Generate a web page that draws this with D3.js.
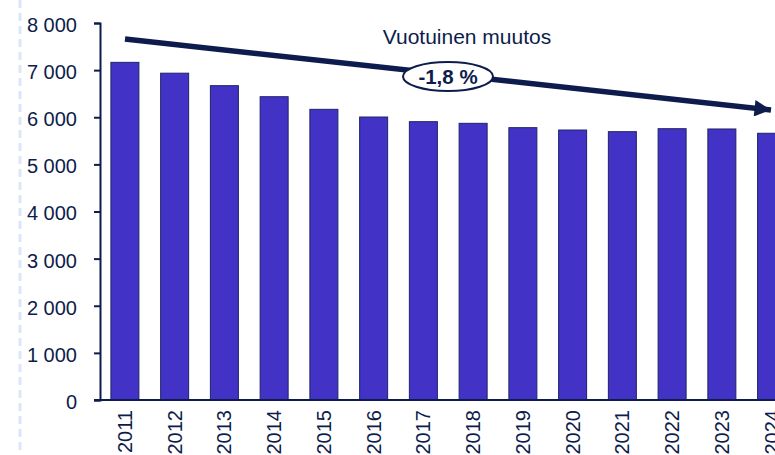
<!DOCTYPE html>
<html>
<head>
<meta charset="utf-8">
<script src="https://cdn.jsdelivr.net/npm/d3@7"></script>
<style>
  html, body { margin: 0; padding: 0; background: #fff; }
  svg { display: block; }
</style>
</head>
<body>
<svg id="chart" width="775" height="455" font-family="'Liberation Sans', Arial, sans-serif"></svg>
<script>
// data
var years = ["2011", "2012", "2013", "2014", "2015", "2016", "2017",
             "2018", "2019", "2020", "2021", "2022", "2023", "2024"];
var values = [7165, 6935, 6670, 6436, 6168, 6005, 5906,
              5871, 5779, 5729, 5694, 5757, 5751, 5660];
var yTicks = [0, 1000, 2000, 3000, 4000, 5000, 6000, 7000, 8000];
var changeTitle = "Vuotuinen muutos";
var changeLabel = "-1,8 %";

var navy = "#0d1c4c";
var barColor = "#4233c6";
var font = "'Liberation Sans', Arial, sans-serif";

var svg = d3.select("#chart");

var x = d3.scaleBand()
    .domain(years)
    .range([100, 796.5])
    .paddingInner(0.437)
    .paddingOuter(0.219);

var y = d3.scaleLinear()
    .domain([0, 8000])
    .range([400, 23]);

var fmt = function (d) { return d3.format(",")(d).replace(/,/g, " "); };

// dashed guide on the far left
svg.append("line")
    .attr("x1", 20).attr("x2", 20)
    .attr("y1", 0).attr("y2", 455)
    .style("stroke", "#dce6fa")
    .style("stroke-width", 3)
    .style("stroke-dasharray", "8,5");

// bars
svg.selectAll("rect.bar")
    .data(values)
    .enter()
    .append("rect")
    .attr("class", "bar")
    .attr("x", function (d, i) { return x(years[i]); })
    .attr("y", function (d) { return y(d); })
    .attr("width", x.bandwidth())
    .attr("height", function (d) { return y(0) - y(d); })
    .style("fill", barColor)
    .style("stroke", "#1d2466")
    .style("stroke-width", 1);

// y axis
var yAxis = d3.axisLeft(y)
    .tickValues(yTicks)
    .tickFormat(fmt)
    .tickSize(6)
    .tickPadding(17);

var gy = svg.append("g")
    .attr("transform", "translate(100,0)")
    .call(yAxis)
    .attr("font-size", 20)
    .attr("font-family", font);
gy.select(".domain").style("stroke", navy).style("stroke-width", 2);
gy.selectAll(".tick line").style("stroke", navy).style("stroke-width", 2);
gy.selectAll(".tick text")
    .attr("dy", "0.42em")
    .attr("fill", navy);

// x axis
var xAxis = d3.axisBottom(x).tickSize(0).tickPadding(0);
var gx = svg.append("g")
    .attr("transform", "translate(0,400)")
    .call(xAxis)
    .attr("font-size", 20)
    .attr("font-family", font);
gx.select(".domain")
    .attr("d", "M94,0H775")
    .style("stroke", navy)
    .style("stroke-width", 2);
gx.selectAll(".tick text")
    .attr("transform", "rotate(-90)")
    .attr("x", -10)
    .attr("y", 0)
    .attr("dy", "0.35em")
    .attr("text-anchor", "end")
    .attr("fill", navy);

// trend arrow
svg.append("defs").append("marker")
    .attr("id", "head")
    .attr("viewBox", "0 0 10 10")
    .attr("refX", 10).attr("refY", 5)
    .attr("markerWidth", 3.2).attr("markerHeight", 3)
    .attr("markerUnits", "strokeWidth")
    .attr("orient", "auto")
    .append("path")
    .attr("d", "M0,0L10,5L0,10Z")
    .style("fill", navy);

svg.append("line")
    .attr("x1", 125).attr("y1", 39)
    .attr("x2", 771).attr("y2", 110)
    .style("stroke", navy)
    .style("stroke-width", 5.5)
    .attr("marker-end", "url(#head)");

svg.append("text")
    .attr("x", 467).attr("y", 44)
    .attr("text-anchor", "middle")
    .attr("fill", navy)
    .attr("font-size", 21)
    .text(changeTitle);

svg.append("ellipse")
    .attr("cx", 448).attr("cy", 76.5)
    .attr("rx", 45).attr("ry", 14.5)
    .style("fill", "#fff")
    .style("stroke", navy)
    .style("stroke-width", 2);

svg.append("text")
    .attr("x", 448).attr("y", 84)
    .attr("text-anchor", "middle")
    .attr("fill", navy)
    .attr("font-weight", "bold")
    .attr("font-size", 20.5)
    .text(changeLabel);
</script>
</body>
</html>
